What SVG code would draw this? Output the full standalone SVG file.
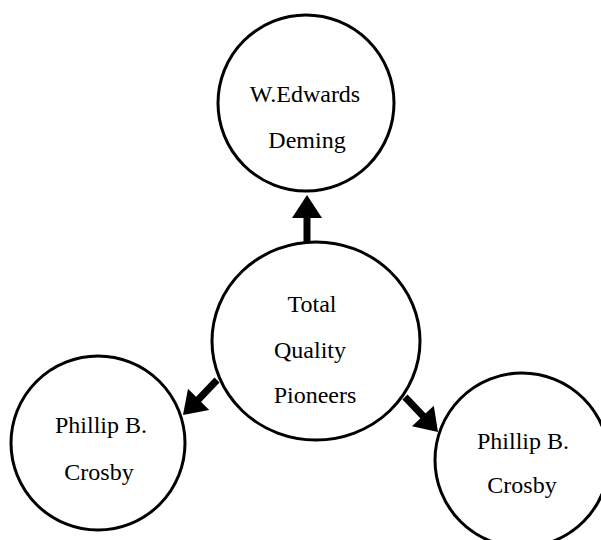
<svg xmlns="http://www.w3.org/2000/svg" width="601" height="540" viewBox="0 0 601 540">
  <style>
    .node { fill: #ffffff; stroke: #000000; stroke-width: 3; }
    .label { font-family: 'Liberation Serif', 'Times New Roman', Times, serif; font-size: 24px; fill: #000000; text-anchor: middle; }
    .shaft { stroke: #000000; stroke-width: 7; fill: none; }
    .head { fill: #000000; stroke: none; }
  </style>
  <rect width="601" height="540" fill="#ffffff"/>

  <g id="connectors">
    <!-- centre to top -->
    <line class="shaft" x1="307" y1="243" x2="307" y2="216"/>
    <polygon class="head" points="307,195 292,218 322,218"/>
    <!-- centre to lower left -->
    <line class="shaft" x1="217" y1="380" x2="197" y2="401"/>
    <polygon class="head" points="183,415 188,388.8 209.2,410"/>
    <!-- centre to lower right -->
    <line class="shaft" x1="405" y1="397" x2="424" y2="417"/>
    <polygon class="head" points="438,432 412,426.3 433.8,405.7"/>
  </g>

  <g id="deming">
    <circle class="node" cx="306" cy="103" r="88"/>
    <text class="label" x="305" y="102" font-family="Liberation Serif, serif">W.Edwards</text>
    <text class="label" x="307" y="148" font-family="Liberation Serif, serif">Deming</text>
  </g>

  <g id="pioneers">
    <ellipse class="node" cx="316" cy="341" rx="104" ry="99"/>
    <text class="label" x="312" y="312" font-family="Liberation Serif, serif">Total</text>
    <text class="label" x="310" y="358" font-family="Liberation Serif, serif">Quality</text>
    <text class="label" x="315" y="403" font-family="Liberation Serif, serif">Pioneers</text>
  </g>

  <g id="crosby-left">
    <circle class="node" cx="98" cy="443" r="87"/>
    <text class="label" x="101" y="433" font-family="Liberation Serif, serif">Phillip B.</text>
    <text class="label" x="99" y="480" font-family="Liberation Serif, serif">Crosby</text>
  </g>

  <g id="crosby-right">
    <circle class="node" cx="522" cy="460" r="87"/>
    <text class="label" x="523" y="449" font-family="Liberation Serif, serif">Phillip B.</text>
    <text class="label" x="522" y="493" font-family="Liberation Serif, serif">Crosby</text>
  </g>
</svg>
